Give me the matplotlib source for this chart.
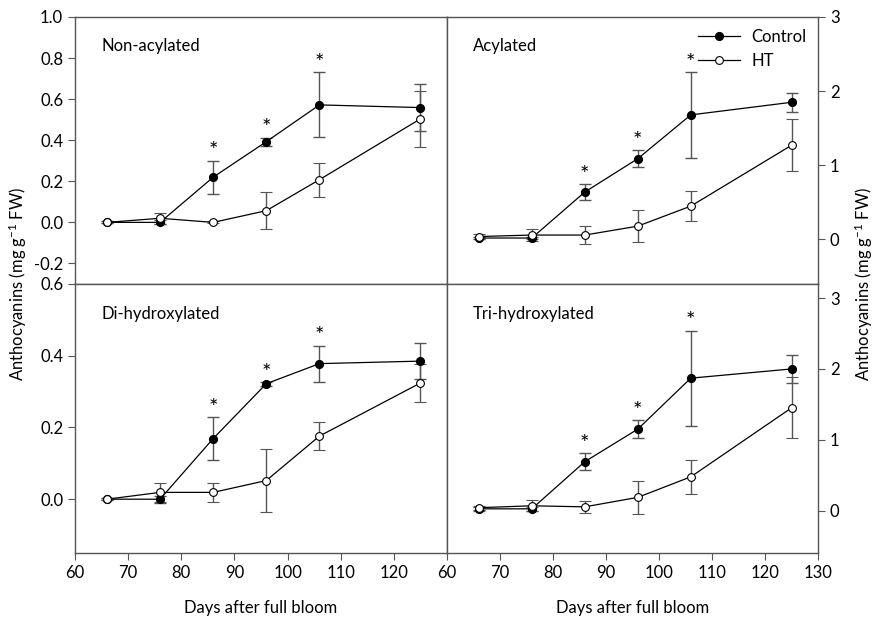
import numpy as np
import matplotlib.pyplot as plt
from matplotlib.lines import Line2D

plt.rcParams['font.family'] = ['Lato', 'DejaVu Sans']
plt.rcParams['font.size'] = 11
plt.rcParams['mathtext.default'] = 'regular'

days = [66, 76, 86, 96, 106, 125]

# Non-acylated
nonacyl_ctrl = [0.0, 0.0, 0.22, 0.393, 0.572, 0.559]
nonacyl_ctrl_err = [0.005, 0.01, 0.08, 0.02, 0.158, 0.114]
nonacyl_ht = [0.0, 0.02, 0.0, 0.057, 0.208, 0.504]
nonacyl_ht_err = [0.005, 0.027, 0.005, 0.09, 0.083, 0.138]

# Acylated
acyl_ctrl = [0.02, 0.02, 0.64, 1.09, 1.68, 1.85]
acyl_ctrl_err = [0.02, 0.02, 0.11, 0.11, 0.58, 0.13]
acyl_ht = [0.04, 0.06, 0.06, 0.18, 0.45, 1.27]
acyl_ht_err = [0.03, 0.08, 0.12, 0.22, 0.2, 0.35]

# Di-hydroxylated
dihyd_ctrl = [0.0, 0.0, 0.169, 0.322, 0.378, 0.385]
dihyd_ctrl_err = [0.003, 0.01, 0.06, 0.005, 0.05, 0.05]
dihyd_ht = [0.0, 0.019, 0.019, 0.052, 0.176, 0.324]
dihyd_ht_err = [0.003, 0.027, 0.027, 0.087, 0.04, 0.053]

# Tri-hydroxylated
trihyd_ctrl = [0.024, 0.024, 0.69, 1.15, 1.87, 2.0]
trihyd_ctrl_err = [0.03, 0.03, 0.12, 0.13, 0.67, 0.2]
trihyd_ht = [0.04, 0.067, 0.052, 0.186, 0.476, 1.45]
trihyd_ht_err = [0.03, 0.08, 0.08, 0.23, 0.24, 0.43]

signif = [86, 96, 106]

panels = [
    ("Non-acylated", nonacyl_ctrl, nonacyl_ctrl_err, nonacyl_ht, nonacyl_ht_err,
     (-0.3, 1.0), np.arange(-0.2, 1.01, 0.2), "{:.1f}"),
    ("Acylated", acyl_ctrl, acyl_ctrl_err, acyl_ht, acyl_ht_err,
     (-0.6, 3.0), [0, 1, 2, 3], "{:.0f}"),
    ("Di-hydroxylated", dihyd_ctrl, dihyd_ctrl_err, dihyd_ht, dihyd_ht_err,
     (-0.15, 0.6), [0.0, 0.2, 0.4, 0.6], "{:.1f}"),
    ("Tri-hydroxylated", trihyd_ctrl, trihyd_ctrl_err, trihyd_ht, trihyd_ht_err,
     (-0.6, 3.2), [0, 1, 2, 3], "{:.0f}"),
]

fig = plt.figure(figsize=(8.82, 6.23), dpi=100)
W, H = 882, 623
x0, xm, x1 = 75, 447, 818
ytop, ymid, ybot = 17, 284, 553
rects = [
    (x0, ytop, xm, ymid), (xm, ytop, x1, ymid),
    (x0, ymid, xm, ybot), (xm, ymid, x1, ybot),
]

spine_c = '#555555'
err_c = '#555555'

for i, (name, c, ce, h, he, ylim, yt, fmt) in enumerate(panels):
    l, t, r, b = rects[i]
    ax = fig.add_axes([l / W, 1 - b / H, (r - l) / W, (b - t) / H])
    ax.errorbar(days, c, yerr=ce, color='black', ecolor=err_c, elinewidth=1,
                capsize=4, capthick=1, lw=0.9, marker='o', ms=5.6,
                mfc='black', mec='black', zorder=3)
    ax.errorbar(days, h, yerr=he, color='black', ecolor=err_c, elinewidth=1,
                capsize=4, capthick=1, lw=0.9, marker='o', ms=5.6,
                mfc='white', mec='black', mew=0.8, zorder=3)
    for d in signif:
        k = days.index(d)
        top = c[k] + ce[k]
        ax.text(d, top + (ylim[1] - ylim[0]) * 0.035, '*', ha='center',
                va='center', fontsize=16)
    ax.set_xlim(60, 130)
    ax.set_ylim(*ylim)
    ax.set_yticks(yt)
    ax.set_yticklabels([fmt.format(v) for v in yt], fontsize=12)
    for s in ax.spines.values():
        s.set_color(spine_c)
        s.set_linewidth(1)
    ax.tick_params(axis='y', color=spine_c, length=5, direction='out')
    ax.tick_params(axis='x', color=spine_c, length=5, direction='out')
    if i % 2 == 1:
        ax.yaxis.tick_right()
    if i < 2:
        ax.set_xticks([])
    else:
        if i == 2:
            xt = [60, 70, 80, 90, 100, 110, 120]
        else:
            xt = [60, 70, 80, 90, 100, 110, 120, 130]
        ax.set_xticks(xt)
        ax.set_xticklabels([str(v) for v in xt], fontsize=12)
        ax.set_xlabel("Days after full bloom", fontsize=12, labelpad=14)
    ax.text(0.07, 0.92, name, transform=ax.transAxes, ha='left', va='top',
            fontsize=12)
    if i == 1:
        handles = [
            Line2D([], [], color='black', lw=0.9, marker='o', ms=5.6,
                   mfc='black', mec='black'),
            Line2D([], [], color='black', lw=0.9, marker='o', ms=5.6,
                   mfc='white', mec='black', mew=0.8),
        ]
        ax.legend(handles, ['Control', 'HT'], loc='upper right',
                  frameon=False, fontsize=12, handlelength=2.5,
                  handletextpad=0.7, borderaxespad=0.3, labelspacing=0.5)

ylab = "Anthocyanins (mg g$^{-1}$ FW)"
fig.text(18 / W, 1 - ymid / H, ylab, rotation=90, ha='center', va='center',
         fontsize=12)
fig.text(864 / W, 1 - ymid / H, ylab, rotation=90, ha='center', va='center',
         fontsize=12)

fig.savefig("out.png", dpi=100)
